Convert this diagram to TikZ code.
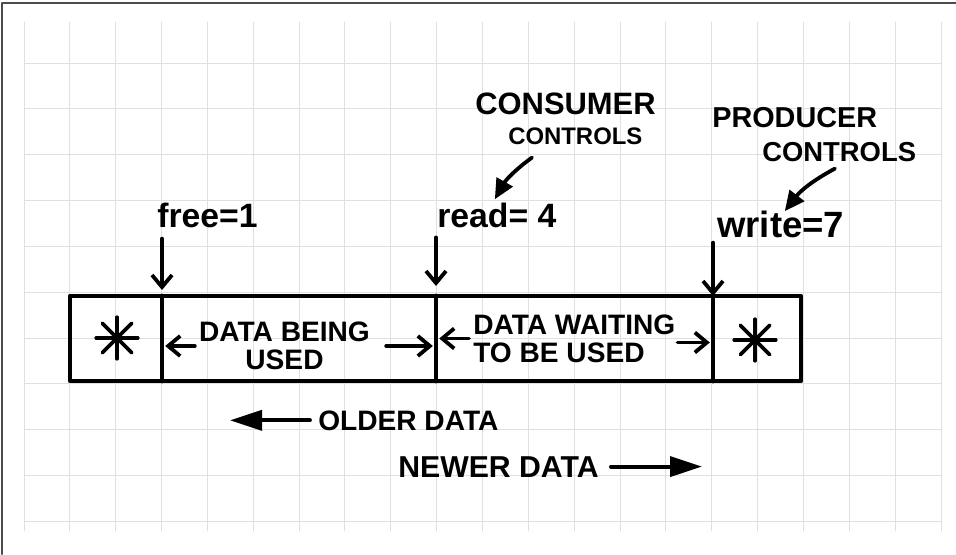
\documentclass[tikz,border=0pt]{standalone}
\usepackage{fontspec}
\setmainfont{Liberation Sans}
\usetikzlibrary{arrows.meta}
\newcommand{\handsize}[1]{\fontsize{#1}{#1}\selectfont\bfseries}

\begin{document}
\begin{tikzpicture}[line join=round,line cap=round,scale=1]
\tikzstyle{grid line} = [draw,line width=0.7pt,black!12]
\tikzstyle{frame line} = [draw,line width=1.6pt,black!70]
\tikzstyle{buffer edge} = [draw,line width=3.4pt]
\tikzstyle{pointer} = [draw,line width=2.7pt,-{Straight Barb[length=0.3cm,width=0.5cm]}]
\tikzstyle{callout} = [draw,line width=2.7pt,-{Triangle[length=0.5cm,width=0.45cm]}]
\tikzstyle{age arrow} = [draw,line width=2.7pt,-{Triangle[length=0.8cm,width=0.5cm]}]
\tikzstyle{hand} = [inner sep=0pt]

\useasboundingbox (0,0) rectangle (23.9,13.85);

\foreach \i in {0,...,20}
  \draw[grid line] ({0.6+1.14625*\i},0.575) -- ({0.6+1.14625*\i},13.3);
\foreach \j in {0,...,10}
  \draw[grid line] (0.6,{12.275-1.14625*\j}) -- (23.525,{12.275-1.14625*\j});
\draw[frame line] (0.05,0) -- (0.05,13.78) -- (23.9,13.78);

\coordinate (NW) at (1.75,6.45);
\coordinate (SE) at (20.025,4.325);
\coordinate (F)  at (4.05,6.45);
\coordinate (F1) at (4.05,4.325);
\coordinate (R)  at (10.9,6.45);
\coordinate (R1) at (10.9,4.325);
\coordinate (W)  at (17.825,6.45);
\coordinate (W1) at (17.825,4.325);
\coordinate (S1) at (2.925,5.4);
\coordinate (S2) at (18.875,5.35);

\draw[buffer edge] (NW) rectangle (SE);
\draw[buffer edge] (F) -- (F1);
\draw[buffer edge] (R) -- (R1);
\draw[buffer edge] (W) -- (W1);

\foreach \a in {0,45,90,135} {
  \draw[line width=2.6pt] (S1) ++(\a:0.52) -- ++(\a+180:1.04);
  \draw[line width=2.6pt] (S2) ++(\a:0.52) -- ++(\a+180:1.04);
}

\node[hand,anchor=base west,font=\handsize{24}] (free) at (3.925,8.15) {free=1};
\node[hand,anchor=base west,font=\handsize{24}] (read) at (10.925,8.15) {read= 4};
\node[hand,anchor=base west,font=\handsize{26}] (write) at (17.925,7.9) {write=7};
\node[hand,anchor=base west,font=\handsize{22}] (consumer) at (11.875,10.975) {CONSUMER};
\node[hand,anchor=base west,font=\handsize{17}] (cctrl) at (12.7,10.225) {CONTROLS};
\node[hand,anchor=base west,font=\handsize{20.5}] (producer) at (17.8,10.65) {PRODUCER};
\node[hand,anchor=base west,font=\handsize{19.5}] (pctrl) at (19.05,9.8) {CONTROLS};
\node[hand,align=center,font=\handsize{20}] (used) at (7.1125,5.2) {DATA BEING\\USED};
\node[hand,align=left,anchor=west,font=\handsize{20}] (waiting) at (11.825,5.3875) {DATA WAITING\\TO BE USED};
\node[hand,anchor=base west,font=\handsize{20}] (older) at (7.95,3.1) {OLDER DATA};
\node[hand,anchor=base west,font=\handsize{21.5}] (newer) at (9.95,1.925) {NEWER DATA};

\coordinate (oldtip) at (5.75,3.275);
\coordinate (newtip) at (17.55,2.15);

\draw[pointer,shorten <=0.25cm,shorten >=0.15cm] (free.south west -| F) -- (F);
\draw[pointer,shorten <=0.22cm,shorten >=0.25cm] (read.south west -| R) -- (R);
\draw[pointer,shorten <=0.1cm] (write.south west -| W) -- (W);

\draw[pointer,shorten <=0.1cm,shorten >=0.08cm] (used.west) -- (used.west -| F);
\draw[pointer,shorten <=0.4cm,shorten >=0.08cm] (used.east) -- (used.east -| R);
\draw[pointer,shorten <=0.1cm,shorten >=0.08cm] (waiting.west) -- (waiting.west -| R);
\draw[pointer,shorten <=0.05cm,shorten >=0.08cm] ([yshift=-0.1cm]waiting.east) -- ([yshift=-0.1cm]waiting.east -| W);

\draw[callout] ([xshift=0.6cm,yshift=-0.3cm]cctrl.south west) to[bend right=12] ([xshift=-0.05cm,yshift=0.1cm]read.north);
\draw[callout] ([xshift=1.825cm,yshift=-0.15cm]pctrl.south west) to[bend right=12] ([xshift=0.1cm]write.north);

\draw[age arrow,shorten <=0.2cm] (older.west) -- (older.west -| oldtip);
\draw[age arrow,shorten <=0.3cm] (newer.east) -- (newer.east -| newtip);

\end{tikzpicture}
\end{document}
